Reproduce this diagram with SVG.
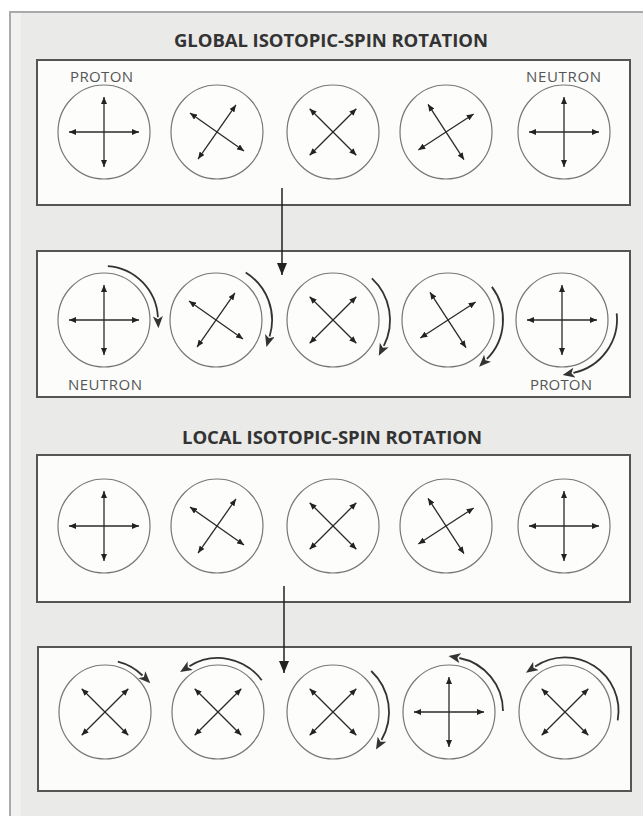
<svg xmlns="http://www.w3.org/2000/svg" width="643" height="816" viewBox="0 0 643 816">
<defs>
<style>
.frame{fill:#eaeae8;stroke:#a9a9a9;stroke-width:2}
.band{fill:#f1f1ef}
.panel{fill:#fcfcfa;stroke:#555;stroke-width:2}
.orb{fill:#fdfdfc;stroke:#777;stroke-width:1.2}
.rot{fill:none;stroke:#333;stroke-width:1.8;marker-end:url(#rh)}
.conn{stroke:#222;stroke-width:1.5;marker-end:url(#ch)}
.title{font-family:"Open Sans","Liberation Sans",sans-serif;font-weight:bold;font-size:18.5px;fill:#333}
.lbl{font-family:"Open Sans","Liberation Sans",sans-serif;font-size:15px;fill:#555}
</style>
<marker id="sh" viewBox="0 0 7 6" refX="7" refY="3" markerWidth="7" markerHeight="6" markerUnits="userSpaceOnUse" orient="auto-start-reverse"><path d="M0,0 L7,3 L0,6 z" fill="#222"/></marker>
<marker id="rh" viewBox="0 0 12 10" refX="1" refY="5" markerWidth="12" markerHeight="10" markerUnits="userSpaceOnUse" orient="auto"><path d="M0,0 L12,5 L0,10 L3,5 z" fill="#333"/></marker>
<marker id="ch" viewBox="0 0 12 10" refX="12" refY="5" markerWidth="12" markerHeight="10" markerUnits="userSpaceOnUse" orient="auto"><path d="M0,0 L12,5 L0,10 z" fill="#222"/></marker>
<g id="plus" stroke="#2a2a2a" stroke-width="1.3">
<line x1="-35" y1="0" x2="35" y2="0" marker-start="url(#sh)" marker-end="url(#sh)"/>
<line x1="0" y1="-35" x2="0" y2="35" marker-start="url(#sh)" marker-end="url(#sh)"/>
</g>
<g id="xarm" stroke="#2a2a2a" stroke-width="1.3">
<line x1="-33" y1="0" x2="33" y2="0" marker-start="url(#sh)" marker-end="url(#sh)"/>
<line x1="0" y1="-33" x2="0" y2="33" marker-start="url(#sh)" marker-end="url(#sh)"/>
</g>
</defs>

<rect class="frame" x="10" y="12" width="650" height="820"/>
<rect class="band" x="11" y="13" width="10" height="810"/>

<text class="title" x="331" y="47" text-anchor="middle" textLength="314" lengthAdjust="spacing">GLOBAL ISOTOPIC-SPIN ROTATION</text>
<text class="title" x="332" y="444" text-anchor="middle" textLength="300" lengthAdjust="spacing">LOCAL ISOTOPIC-SPIN ROTATION</text>

<g id="panel-global-before">
<rect class="panel" x="37" y="60" width="593" height="145"/>
<text class="lbl" x="70" y="82" textLength="63" lengthAdjust="spacing">PROTON</text>
<text class="lbl" x="526" y="82" textLength="75" lengthAdjust="spacing">NEUTRON</text>
<g id="g1-c1"><ellipse class="orb" cx="104" cy="132" rx="46" ry="47"/><use href="#plus" transform="translate(104,132)"/></g>
<g id="g1-c2"><ellipse class="orb" cx="217" cy="132" rx="46" ry="47"/><use href="#xarm" transform="translate(217,132) rotate(35)"/></g>
<g id="g1-c3"><ellipse class="orb" cx="333" cy="132" rx="46" ry="47"/><use href="#xarm" transform="translate(333,132) rotate(45)"/></g>
<g id="g1-c4"><ellipse class="orb" cx="446" cy="132" rx="46" ry="47"/><use href="#xarm" transform="translate(446,132) rotate(57)"/></g>
<g id="g1-c5"><ellipse class="orb" cx="564" cy="132" rx="46" ry="47"/><use href="#plus" transform="translate(564,132)"/></g>
</g>

<g id="panel-global-after">
<rect class="panel" x="37" y="251" width="593" height="146"/>
<text class="lbl" x="68" y="390" textLength="74" lengthAdjust="spacing">NEUTRON</text>
<text class="lbl" x="530" y="390" textLength="62" lengthAdjust="spacing">PROTON</text>
<g id="g2-c1"><ellipse class="orb" cx="104" cy="320" rx="46" ry="47"/><use href="#plus" transform="translate(104,320)"/>
<path class="rot" d="M107.8,266.1 A54,54 0 0 1 157.9,317.2"/></g>
<g id="g2-c2"><ellipse class="orb" cx="216" cy="320" rx="46" ry="47"/><use href="#xarm" transform="translate(216,320) rotate(35)"/>
<path class="rot" d="M245.7,272.5 A56,56 0 0 1 269.6,336.4"/></g>
<g id="g2-c3"><ellipse class="orb" cx="333" cy="320" rx="46" ry="47"/><use href="#xarm" transform="translate(333,320) rotate(45)"/>
<path class="rot" d="M371.9,278.3 A57,57 0 0 1 383.8,345.9"/></g>
<g id="g2-c4"><ellipse class="orb" cx="448" cy="320" rx="46" ry="47"/><use href="#xarm" transform="translate(448,320) rotate(57)"/>
<path class="rot" d="M491.9,286.9 A55,55 0 0 1 486.9,358.9"/></g>
<g id="g2-c5"><ellipse class="orb" cx="562" cy="320" rx="46" ry="47"/><use href="#plus" transform="translate(562,320)"/>
<path class="rot" d="M616.7,313.3 A55,55 0 0 1 573.4,372.8"/></g>
</g>

<g id="panel-local-before">
<rect class="panel" x="37" y="455" width="593" height="147"/>
<g id="l1-c1"><ellipse class="orb" cx="104" cy="526" rx="46" ry="47"/><use href="#plus" transform="translate(104,526)"/></g>
<g id="l1-c2"><ellipse class="orb" cx="217" cy="526" rx="46" ry="47"/><use href="#xarm" transform="translate(217,526) rotate(35)"/></g>
<g id="l1-c3"><ellipse class="orb" cx="333" cy="526" rx="46" ry="47"/><use href="#xarm" transform="translate(333,526) rotate(45)"/></g>
<g id="l1-c4"><ellipse class="orb" cx="446" cy="526" rx="46" ry="47"/><use href="#xarm" transform="translate(446,526) rotate(57)"/></g>
<g id="l1-c5"><ellipse class="orb" cx="564" cy="526" rx="46" ry="47"/><use href="#plus" transform="translate(564,526)"/></g>
</g>

<g id="panel-local-after">
<rect class="panel" x="38" y="647" width="593" height="144"/>
<g id="l2-c1"><ellipse class="orb" cx="105" cy="712" rx="46" ry="47"/><use href="#xarm" transform="translate(105,712) rotate(45)"/>
<path class="rot" d="M117.8,661.6 A53,53 0 0 1 142.5,675.5"/></g>
<g id="l2-c2"><ellipse class="orb" cx="218" cy="712" rx="46" ry="47"/><use href="#xarm" transform="translate(218,712) rotate(45)"/>
<path class="rot" d="M261.7,680.3 A54,54 0 0 0 189.4,666.2"/></g>
<g id="l2-c3"><ellipse class="orb" cx="333" cy="712" rx="46" ry="47"/><use href="#xarm" transform="translate(333,712) rotate(45)"/>
<path class="rot" d="M371.2,671.0 A56,56 0 0 1 381.5,740"/></g>
<g id="l2-c4"><ellipse class="orb" cx="449" cy="712" rx="46" ry="47"/><use href="#plus" transform="translate(449,712)"/>
<path class="rot" d="M503,711 A54,54 0 0 0 459.3,658.0"/></g>
<g id="l2-c5"><ellipse class="orb" cx="565" cy="712" rx="46" ry="47"/><use href="#xarm" transform="translate(565,712) rotate(45)"/>
<path class="rot" d="M617.7,720.3 A53.5,53.5 0 0 0 535.1,666.6"/></g>
</g>

<g id="connectors">
<line class="conn" x1="282" y1="188" x2="282" y2="275"/>
<line class="conn" x1="284" y1="586" x2="284" y2="673"/>
</g>
</svg>
